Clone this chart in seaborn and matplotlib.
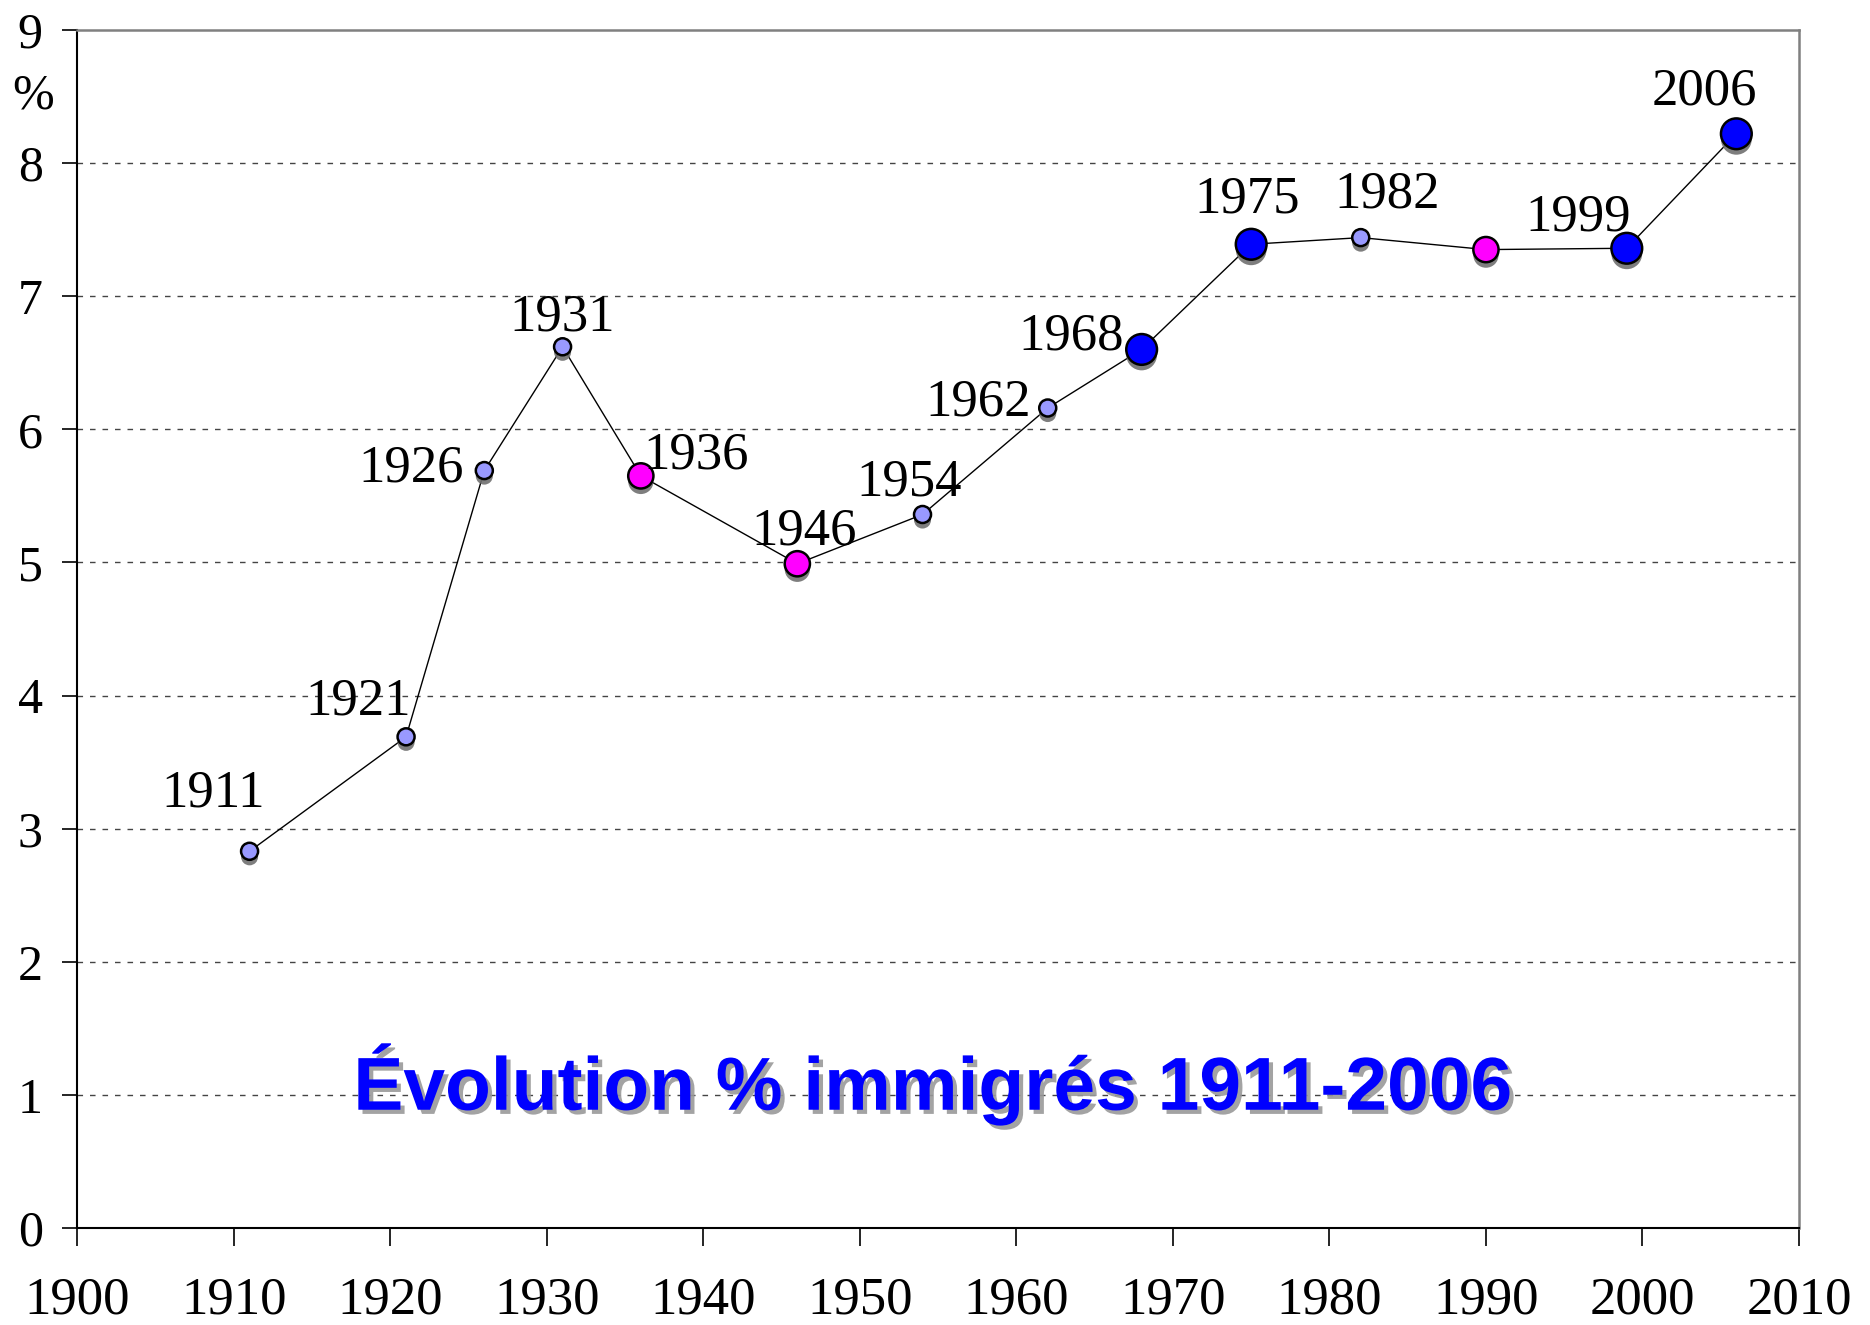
import matplotlib
matplotlib.use("Agg")
import matplotlib.pyplot as plt
import matplotlib.patheffects as pe
import matplotlib.transforms as mtransforms
import pandas as pd
import seaborn as sns

# data
years = [1911, 1921, 1926, 1931, 1936, 1946, 1954, 1962, 1968, 1975, 1982, 1990, 1999, 2006]
pct = [2.83, 3.69, 5.69, 6.62, 5.65, 4.99, 5.36, 6.16, 6.60, 7.39, 7.44, 7.35, 7.36, 8.22]
kind = ["petit", "petit", "petit", "petit", "guerre", "guerre", "petit", "petit",
        "grand", "grand", "petit", "guerre", "grand", "grand"]
labels = ["1911", "1921", "1926", "1931", "1936", "1946", "1954", "1962",
          "1968", "1975", "1982", "", "1999", "2006"]
x_ticks = list(range(1900, 2011, 10))
y_ticks = list(range(0, 10))
title = "Évolution % immigrés 1911-2006"

df = pd.DataFrame({"annee": years, "pct": pct, "kind": kind, "label": labels})

sns.set_theme(style="white")
plt.rcParams["font.family"] = ["Liberation Serif", "DejaVu Serif"]
plt.rcParams["text.color"] = "black"

fig = plt.figure(figsize=(18.7, 13.25), dpi=100)
ax = fig.add_axes([0.0414, 0.0732, 0.9206, 0.9042])

sns.lineplot(data=df, x="annee", y="pct", color="black", linewidth=1.0, ax=ax, zorder=2)

palette = {"petit": "#9999FF", "guerre": "#FF00FF", "grand": "#0000FF"}
sizes = {"petit": 150, "guerre": 330, "grand": 490}
sns.scatterplot(data=df, x="annee", y="pct", hue="kind", size="kind",
                palette=palette, sizes=sizes, edgecolor="black", linewidth=1.8,
                legend=False, ax=ax, zorder=3)
for coll in ax.collections:
    coll.set_path_effects([pe.SimplePatchShadow(offset=(0, -4), shadow_rgbFace="#707070", alpha=0.9),
                           pe.Normal()])

# label offsets in pixels (dx, dy) relative to each point
offsets = {
    "1911": (-36, 58), "1921": (-48, 35), "1926": (-73, 2), "1931": (0, 29),
    "1936": (55, 20), "1946": (7, 32), "1954": (-13, 32), "1962": (-70, 6),
    "1968": (-71, 13), "1975": (-4, 45), "1982": (26, 43), "1999": (-49, 31),
    "2006": (-32, 42),
}
for _, row in df.iterrows():
    if not row["label"]:
        continue
    ax.annotate(row["label"], (row["annee"], row["pct"]),
                xytext=offsets[row["label"]], textcoords="offset pixels",
                ha="center", va="center", fontsize=38, color="black", zorder=4)

ax.set_xlim(1900, 2010)
ax.set_ylim(0, 9)
ax.set_xticks(x_ticks)
ax.set_yticks(y_ticks)
ax.set_xlabel("")
ax.set_ylabel("")
ax.tick_params(axis="x", direction="out", length=13, width=1.2, color="black",
               labelcolor="black", labelsize=38, pad=22, bottom=True)
ax.tick_params(axis="y", direction="out", length=11, width=1.2, color="black",
               labelcolor="black", labelsize=36, pad=14, left=True)

for v in y_ticks[1:-1]:
    ax.axhline(v, color="#444444", linewidth=1.0, linestyle=(0, (4, 5)), zorder=1)

for side in ["left", "bottom"]:
    ax.spines[side].set_color("black")
    ax.spines[side].set_linewidth(1.5)
for side in ["top", "right"]:
    ax.spines[side].set_color("#808080")
    ax.spines[side].set_linewidth(1.8)

trans = mtransforms.blended_transform_factory(ax.transAxes, ax.transData)
ax.text(-0.026, 8.5, "%", transform=trans, ha="center", va="center", fontsize=36, color="black")

ax.text(0.497, 1.08, title, ha="center", va="center", fontsize=54,
        fontweight="bold", color="#0000FF", family=["Liberation Sans", "DejaVu Sans"],
        transform=trans,
        path_effects=[pe.SimplePatchShadow(offset=(3, -3), shadow_rgbFace="#999999", alpha=0.9),
                      pe.Normal()])

fig.savefig("out.png", dpi=100)
